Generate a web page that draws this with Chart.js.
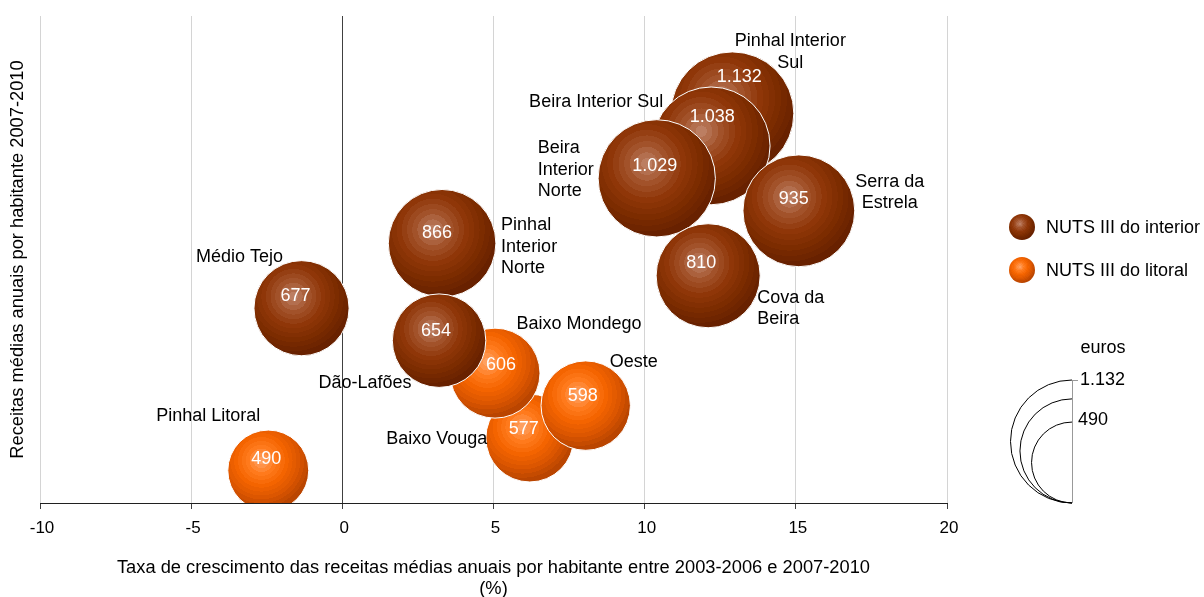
<!DOCTYPE html>
<html><head><meta charset="utf-8">
<script src="https://cdn.jsdelivr.net/npm/chart.js@4/dist/chart.umd.min.js"></script>
<style>html,body{margin:0;padding:0;background:#fff}#wrap{width:1204px;height:597px;position:relative}</style>
</head><body><div id="wrap"><canvas id="c" width="1204" height="597"></canvas></div>
<script>
// ---------- DATA ----------
const interiorNames  = ['Pinhal Interior Sul','Beira Interior Sul','Beira Interior Norte','Serra da Estrela','Cova da Beira','Pinhal Interior Norte','Dão-Lafões','Médio Tejo'];
const interiorGrowth = [12.9, 12.2, 10.4, 15.1, 12.1, 3.3, 3.2, -1.35];   // x (%)
const interiorRank   = [12, 11, 10, 9, 7, 8, 5, 6];                         // y position
const interiorValues = [1132, 1038, 1029, 935, 810, 866, 654, 677];         // euros (bubble size)

const litoralNames  = ['Baixo Vouga','Baixo Mondego','Oeste','Pinhal Litoral'];
const litoralGrowth = [6.2, 5.05, 8.05, -2.45];
const litoralRank   = [2, 4, 3, 1];
const litoralValues = [577, 606, 598, 490];

const seriesLabels = ['NUTS III do interior','NUTS III do litoral'];
const xTickValues = [-10, -5, 0, 5, 10, 15, 20];
const sizeLegendValues = [1132, 811, 490];
const sizeLegendLabels = ['1.132', '', '490'];
const xTitle = ['Taxa de crescimento das receitas médias anuais por habitante entre 2003-2006 e 2007-2010', '(%)'];
const yTitle = 'Receitas médias anuais por habitante 2007-2010';
const sizeTitle = 'euros';

// ---------- STYLE ----------
const FONT = 'Arial, "Liberation Sans", sans-serif';
const RADIUS_K = 61.5 / Math.sqrt(1132);
const interiorStops = ['#BC7E62', '#A2522A', '#8F3608', '#7C2C00', '#682100'];
const litoralStops  = ['#FFA060', '#FF7A1C', '#F46400', '#DC5600', '#BA4500'];
// name label placement: lines, offset from bubble centre (px), alignment
const nameStyle = {
  'Pinhal Interior Sul':   {lines:['Pinhal Interior','Sul'], dx:58, dy:-72, align:'center'},
  'Beira Interior Sul':    {lines:['Beira Interior Sul'], dx:-48, dy:-44, align:'right'},
  'Beira Interior Norte':  {lines:['Beira','Interior','Norte'], dx:-119, dy:-30, align:'left'},
  'Serra da Estrela':      {lines:['Serra da','Estrela'], dx:91, dy:-29, align:'center'},
  'Cova da Beira':         {lines:['Cova da','Beira'], dx:49, dy:22, align:'left'},
  'Pinhal Interior Norte': {lines:['Pinhal','Interior','Norte'], dx:59, dy:-18, align:'left'},
  'Dão-Lafões':            {lines:['Dão-Lafões'], dx:-74, dy:42, align:'center'},
  'Médio Tejo':            {lines:['Médio Tejo'], dx:-62, dy:-51, align:'center'},
  'Baixo Vouga':           {lines:['Baixo Vouga'], dx:-93, dy:1, align:'center'},
  'Baixo Mondego':         {lines:['Baixo Mondego'], dx:84, dy:-49, align:'center'},
  'Oeste':                 {lines:['Oeste'], dx:48, dy:-44, align:'center'},
  'Pinhal Litoral':        {lines:['Pinhal Litoral'], dx:-60, dy:-55, align:'center'}
};
const valueOffset = {
  'Pinhal Interior Sul':[7,-36], 'Beira Interior Sul':[1,-29], 'Beira Interior Norte':[-2,-12],
  'Serra da Estrela':[-5,-12], 'Cova da Beira':[-7,-13], 'Pinhal Interior Norte':[-5,-10],
  'Dão-Lafões':[-3,-10], 'Médio Tejo':[-6,-12], 'Baixo Vouga':[-6,-9], 'Baixo Mondego':[6,-8],
  'Oeste':[-3,-10], 'Pinhal Litoral':[-2,-12]
};

function fmt(v){ const s = String(v); return v >= 1000 ? s.slice(0, s.length-3) + '.' + s.slice(-3) : s; }
function hexToRgb(h){ return [parseInt(h.slice(1,3),16),parseInt(h.slice(3,5),16),parseInt(h.slice(5,7),16)]; }
function interp(stops, t){
  const p = t*(stops.length-1); const i = Math.min(Math.floor(p), stops.length-2); const f = p - i;
  const a = hexToRgb(stops[i]), b = hexToRgb(stops[i+1]);
  return 'rgb(' + a.map((v,k)=>Math.round(v+(b[k]-v)*f)).join(',') + ')';
}
function ballGradient(ctx, cx, cy, r, stops){
  const fx = cx - 0.17*r, fy = cy - 0.25*r;
  const g = ctx.createRadialGradient(fx, fy, 0, fx, fy, r*1.25);
  const N = 13;
  for (let i=0;i<N;i++){
    const c = interp(stops, i/(N-1));
    g.addColorStop(i/N, c); g.addColorStop((i+1)/N, c);
  }
  return g;
}
function makeData(growth, rank, values){
  return growth.map((x,i)=>({x:x, y:rank[i], r:RADIUS_K*Math.sqrt(values[i]), v:values[i]}));
}
function bgFor(stops){
  return (c)=>{
    if (c.type !== 'data' || !c.chart.chartArea) return stops[2];
    const xs = c.chart.scales.x, ys = c.chart.scales.y;
    const cx = xs.getPixelForValue(c.raw.x), cy = ys.getPixelForValue(c.raw.y);
    return ballGradient(c.chart.ctx, cx, cy, c.raw.r, stops);
  };
}

const labelsPlugin = {
  id:'labels',
  afterDatasetsDraw(chart){
    const ctx = chart.ctx;
    const names = [interiorNames, litoralNames];
    ctx.save();
    chart.data.datasets.forEach((ds, di)=>{
      const meta = chart.getDatasetMeta(di);
      meta.data.forEach((el, i)=>{
        const name = names[di][i];
        const vo = valueOffset[name];
        ctx.font = '18px ' + FONT; ctx.fillStyle = '#fff';
        ctx.textAlign = 'center'; ctx.textBaseline = 'middle';
        ctx.fillText(fmt(ds.data[i].v), el.x + vo[0], el.y + vo[1]);
        const ns = nameStyle[name];
        ctx.fillStyle = '#000'; ctx.textAlign = ns.align;
        ns.lines.forEach((ln, k)=> ctx.fillText(ln, el.x + ns.dx, el.y + ns.dy + k*21.5));
      });
    });
    ctx.restore();
  },
  afterDraw(chart){
    const ctx = chart.ctx; const ca = chart.chartArea;
    ctx.save();
    // series legend
    const stopsArr = [interiorStops, litoralStops];
    seriesLabels.forEach((lab, i)=>{
      const cx = 1022, cy = 227 + i*43, r = 13;
      ctx.beginPath(); ctx.arc(cx, cy, r, 0, Math.PI*2);
      ctx.fillStyle = ballGradient(ctx, cx, cy, r, stopsArr[i]); ctx.fill();
      ctx.font = '18px ' + FONT; ctx.fillStyle = '#000';
      ctx.textAlign = 'left'; ctx.textBaseline = 'middle';
      ctx.fillText(lab, 1046, cy + 1);
    });
    // size legend
    const ax = 1072, bottom = ca.bottom;
    const rmax = RADIUS_K*Math.sqrt(sizeLegendValues[0]);
    ctx.strokeStyle = '#999'; ctx.lineWidth = 1;
    ctx.beginPath(); ctx.moveTo(ax+0.5, bottom - 2*rmax); ctx.lineTo(ax+0.5, bottom); ctx.stroke();
    ctx.beginPath(); ctx.moveTo(ax, bottom - 2*rmax + 0.5); ctx.lineTo(ax+6, bottom - 2*rmax + 0.5); ctx.stroke();
    ctx.strokeStyle = '#000';
    sizeLegendValues.forEach((v, i)=>{
      const r = RADIUS_K*Math.sqrt(v);
      ctx.beginPath(); ctx.arc(ax, bottom - r, r, -Math.PI/2, Math.PI/2, true); ctx.stroke();
    });
    ctx.font = '18px ' + FONT; ctx.fillStyle = '#000'; ctx.textBaseline = 'middle';
    ctx.textAlign = 'center'; ctx.fillText(sizeTitle, 1103, 348);
    ctx.textAlign = 'left';
    ctx.fillText(sizeLegendLabels[0], 1080, bottom - 2*rmax);
    const rmin = RADIUS_K*Math.sqrt(sizeLegendValues[2]);
    ctx.fillText(sizeLegendLabels[2], 1078, bottom - 2*rmin - 2);
    ctx.restore();
  }
};

new Chart(document.getElementById('c'), {
  type:'bubble',
  data:{ datasets:[
    {label:seriesLabels[0], data:makeData(interiorGrowth, interiorRank, interiorValues),
     backgroundColor:bgFor(interiorStops), borderColor:'#fff', borderWidth:1},
    {label:seriesLabels[1], data:makeData(litoralGrowth, litoralRank, litoralValues),
     backgroundColor:bgFor(litoralStops), borderColor:'#fff', borderWidth:1}
  ]},
  options:{
    responsive:false, animation:false, events:[],
    layout:{autoPadding:false, padding:{top:16, right:257, left:0, bottom:0}},
    plugins:{legend:{display:false}, tooltip:{enabled:false}},
    scales:{
      x:{type:'linear', min:-10, max:20,
         afterBuildTicks:(s)=>{ s.ticks = xTickValues.map(v=>({value:v})); },
         afterFit:(s)=>{ s.height = 94; },
         ticks:{font:{family:FONT, size:17}, color:'#000', padding:9, labelOffset:2},
         grid:{color:(c)=> c.tick && c.tick.value === 0 ? '#404040' : '#d4d4d4', tickColor:'#404040', tickLength:6},
         border:{display:true, color:'#202020', width:1},
         title:{display:true, text:xTitle, font:{family:FONT, size:18.3, lineHeight:1.15}, color:'#000', padding:{top:0, bottom:-2.5}}
      },
      y:{type:'linear', min:0, max:15,
         afterFit:(s)=>{ s.width = 40; },
         ticks:{display:false}, grid:{display:false}, border:{display:false},
         title:{display:true, text:yTitle, font:{family:FONT, size:18.3, lineHeight:1.15}, color:'#000', padding:{top:7.5, bottom:0}}
      }
    }
  },
  plugins:[labelsPlugin]
});
</script></body></html>
